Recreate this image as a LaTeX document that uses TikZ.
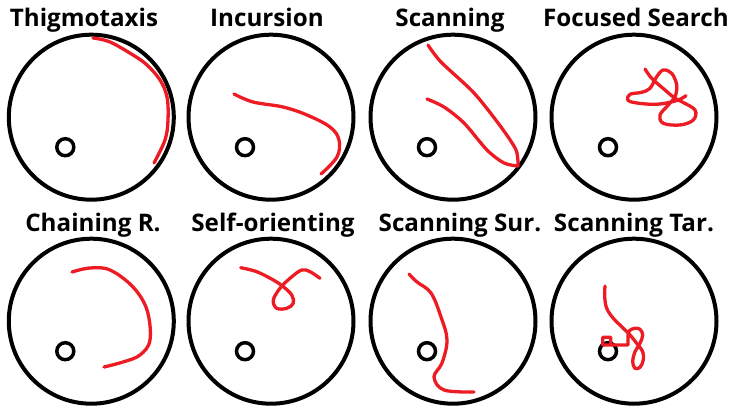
\documentclass[tikz,border=0pt]{standalone}
\usepackage{fontspec}
\setmainfont{Open Sans}
\definecolor{trackred}{RGB}{237,28,36}
\begin{document}
\begin{tikzpicture}[x=1pt,y=-1pt,
  arena/.style={circle,draw=black,line width=4pt,minimum size=165pt,inner sep=0pt},
  goal/.style={circle,draw=black,line width=3.5pt,minimum size=17pt,inner sep=0pt},
  track/.style={draw=trackred,line width=3.3pt,line cap=round,line join=round},
  title/.style={font=\bfseries\fontsize{24.2}{28}\selectfont,anchor=base,inner sep=0pt}]
\useasboundingbox (0,0) rectangle (729,406);
% titles
\node[title] (t1) at (84,26.7) {Thigmotaxis};
\node[title] (t2) at (267,26.7) {Incursion};
\node[title] (t3) at (450,26.7) {Scanning};
\node[title] (t4) at (636,26.7) {Focused Search};
\node[title] (t5) at (93,231.7) {Chaining R.};
\node[title] (t6) at (273,231.7) {Self-orienting};
\node[title] (t7) at (460,231.7) {Scanning Sur.};
\node[title] (t8) at (634,231.7) {Scanning Tar.};
% arenas
\node[arena] (a1) at (91.3,117.2) {};
\node[arena] (a2) at (271,117.2) {};
\node[arena] (a3) at (453,117.2) {};
\node[arena] (a4) at (634,117.2) {};
\node[arena] (a5) at (91.3,321.2) {};
\node[arena] (a6) at (271,321.2) {};
\node[arena] (a7) at (453,321.2) {};
\node[arena] (a8) at (634,321.2) {};
% goals
\foreach \i in {1,...,8}{\node[goal] (g\i) at ([shift={(-26,30)}]a\i.center) {};}
% tracks
\draw[track] plot[smooth,tension=0.6] coordinates {(93,38) (110,42) (133,55) (147,65) (160,80) (167,97) (168,120) (165,140) (154,163)};
\draw[track] plot[smooth,tension=0.6] coordinates {(234,94) (253,102) (283,107) (307,115) (330,127) (339,140) (337,157) (321,174)};
\draw[track] plot[smooth,tension=0.5] coordinates {(428,45) (441,62) (474,93) (501,127) (516,150) (518,166)};
\draw[track] plot[smooth,tension=0.5] coordinates {(518,166) (504,163) (487,150) (464,123) (444,107) (427,99)};
\draw[track] plot[smooth,tension=0.6] coordinates {(645,69) (651.7,78.3) (665,90) (675,98.3) (681.7,101.7) (695,110) (693.3,120) (680,125) (663.3,123.3) (660,115) (668.3,105) (675,96.7) (676.7,85) (671.7,73.3) (663.3,70) (656.7,76.7) (650,88.3) (641.7,92.3) (630,94.3) (627.7,100) (635,102.7) (651.7,104.3) (665,103.3) (678.3,100) (686,95.7)};
\draw[track] plot[smooth,tension=0.6] coordinates {(72,272) (90,268) (110,270) (133,287) (147,310) (150,340) (140,355) (123,362) (104,367)};
\draw[track] plot[smooth,tension=0.6] coordinates {(240.7,267.7) (256.7,271.7) (273.3,280) (283.3,286.7) (291.7,295) (293.3,303.3) (286.7,308.3) (276.7,308.3) (273.3,300) (280,288.3) (290,278.3) (301.7,270) (310,271.7) (320,278.3)};
\draw[track] plot[smooth,tension=0.6] coordinates {(409,274) (417,282) (431,293) (441,317) (447,340) (442,363) (434,377) (444,390) (474,392)};
\draw[track] plot[smooth,tension=0.6] coordinates {(605,286) (604.7,296.7) (606.7,308.3) (613.3,318.3) (621.7,326.7) (630,335) (636.7,343.3) (642.7,351.7) (643.3,360) (640,367.3) (635,368.3) (632.7,361.7) (635,351.7) (640,343.3) (642.7,335) (640,329.3) (635,328.3) (629.3,330.7) (628,336)}
  -- (628,345) -- (602.7,345) -- (602.7,337.3) -- (610.7,337.3) -- (610.7,344);
\end{tikzpicture}
\end{document}
